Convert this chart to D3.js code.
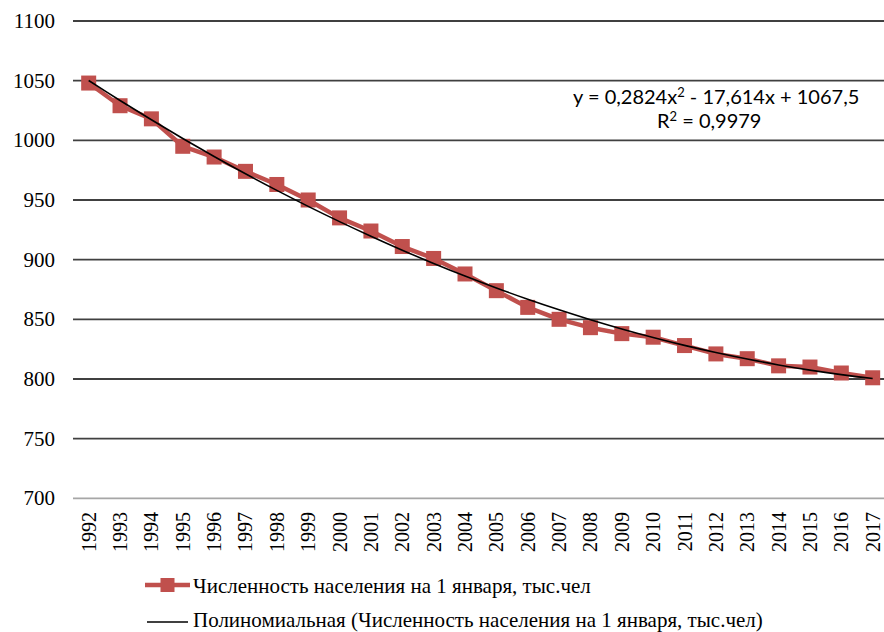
<!DOCTYPE html>
<html lang="ru">
<head>
  <meta charset="UTF-8">
  <title>Численность населения на 1 января</title>
  <script src="https://d3js.org/d3.v7.min.js"></script>
  <style>
    body {
      margin: 0;
      background: #ffffff;
    }
    svg {
      display: block;
    }
    .tick-label {
      font-family: "Liberation Serif", "Times New Roman", serif;
      font-size: 21px;
      fill: #000;
    }
    .x-label {
      font-size: 20px;
    }
    .legend-text {
      font-family: "Liberation Serif", "Times New Roman", serif;
      font-size: 21px;
      fill: #000;
    }
    .equation {
      font-family: Lato, "Open Sans", sans-serif;
      font-size: 20px;
      fill: #000;
    }
  </style>
</head>
<body>
  <svg width="884" height="632"></svg>
  <script>
    // Data
    const years = ["1992", "1993", "1994", "1995", "1996", "1997", "1998", "1999",
      "2000", "2001", "2002", "2003", "2004", "2005", "2006", "2007", "2008",
      "2009", "2010", "2011", "2012", "2013", "2014", "2015", "2016", "2017"];
    const population = [1048, 1029, 1018, 995, 986, 974, 963, 950, 935, 924,
      911, 901, 888, 874, 860, 850, 843, 838, 835, 828, 821, 817, 811, 810, 805, 801];
    // polynomial trend shown on the chart: y = c2*x^2 + c1*x + c0
    const trendCoef = [1067.5, -17.614, 0.2824];
    const yTicks = [700, 750, 800, 850, 900, 950, 1000, 1050, 1100];
    const legendLabels = [
      "Численность населения на 1 января, тыс.чел",
      "Полиномиальная (Численность населения на 1 января, тыс.чел)"
    ];

    const red = "#C0504D";
    const plot = { left: 73, top: 21, bottom: 498.3, step: 31.36 };

    const svg = d3.select("svg");

    const x = d3.scaleBand()
      .domain(years)
      .range([plot.left, plot.left + plot.step * years.length])
      .padding(0);
    const cx = d => x(d) + x.bandwidth() / 2;

    const y = d3.scaleLinear()
      .domain([700, 1100])
      .range([plot.bottom, plot.top]);

    // Gridlines
    svg.append("g")
      .selectAll("line")
      .data(yTicks.filter(t => t > 700))
      .enter()
      .append("line")
      .attr("x1", plot.left)
      .attr("x2", 884)
      .attr("y1", d => y(d))
      .attr("y2", d => y(d))
      .attr("stroke", "#404040")
      .attr("stroke-width", 1.8);

    // Category axis line
    svg.append("line")
      .attr("x1", plot.left)
      .attr("x2", 884)
      .attr("y1", y(700))
      .attr("y2", y(700))
      .attr("stroke", "#a6a6a6")
      .attr("stroke-width", 1.8);

    // Y axis labels
    svg.append("g")
      .selectAll("text")
      .data(yTicks)
      .enter()
      .append("text")
      .attr("class", "tick-label")
      .attr("x", 55)
      .attr("y", d => y(d))
      .attr("dy", "0.34em")
      .attr("text-anchor", "end")
      .text(d => d);

    // X axis labels (rotated)
    svg.append("g")
      .selectAll("text")
      .data(years)
      .enter()
      .append("text")
      .attr("class", "tick-label x-label")
      .attr("text-anchor", "end")
      .attr("dy", "0.35em")
      .attr("transform", d => `translate(${cx(d)},512) rotate(-90)`)
      .text(d => d);

    // Series line
    const line = d3.line()
      .x((d, i) => cx(years[i]))
      .y(d => y(d));

    svg.append("path")
      .datum(population)
      .attr("fill", "none")
      .attr("stroke", red)
      .attr("stroke-width", 4.5)
      .attr("stroke-linejoin", "round")
      .attr("d", line);

    // Markers
    const ms = 15;
    svg.append("g")
      .selectAll("rect")
      .data(population)
      .enter()
      .append("rect")
      .attr("x", (d, i) => cx(years[i]) - ms / 2)
      .attr("y", d => y(d) - ms / 2)
      .attr("width", ms)
      .attr("height", ms)
      .attr("fill", red);

    // Trend line from the displayed equation, x = 1..26
    const trend = years.map((yr, i) => {
      const t = i + 1;
      return trendCoef[0] + trendCoef[1] * t + trendCoef[2] * t * t;
    });
    svg.append("path")
      .datum(trend)
      .attr("fill", "none")
      .attr("stroke", "#000")
      .attr("stroke-width", 1.6)
      .attr("d", line.curve(d3.curveCatmullRom));

    // Equation label (superscript 2 as tspan)
    const eq1 = svg.append("text")
      .attr("class", "equation")
      .attr("x", 573)
      .attr("y", 104);
    eq1.append("tspan").text("y = 0,2824x");
    eq1.append("tspan").attr("dy", -7).attr("font-size", 13).text("2");
    eq1.append("tspan").attr("dy", 7).text(" - 17,614x + 1067,5");

    const eq2 = svg.append("text")
      .attr("class", "equation")
      .attr("x", 657)
      .attr("y", 128);
    eq2.append("tspan").text("R");
    eq2.append("tspan").attr("dy", -7).attr("font-size", 13).text("2");
    eq2.append("tspan").attr("dy", 7).text(" = 0,9979");

    // Legend
    const legend = svg.append("g");
    legend.append("line")
      .attr("x1", 145).attr("x2", 190)
      .attr("y1", 585).attr("y2", 585)
      .attr("stroke", red)
      .attr("stroke-width", 4.5);
    legend.append("rect")
      .attr("x", 167.5 - 7).attr("y", 585 - 7)
      .attr("width", 14).attr("height", 14)
      .attr("fill", red);
    legend.append("text")
      .attr("class", "legend-text")
      .attr("x", 193).attr("y", 593)
      .text(legendLabels[0]);

    legend.append("line")
      .attr("x1", 147).attr("x2", 188)
      .attr("y1", 622).attr("y2", 622)
      .attr("stroke", "#000")
      .attr("stroke-width", 1.5);
    legend.append("text")
      .attr("class", "legend-text")
      .attr("x", 193).attr("y", 627)
      .text(legendLabels[1]);
  </script>
</body>
</html>
